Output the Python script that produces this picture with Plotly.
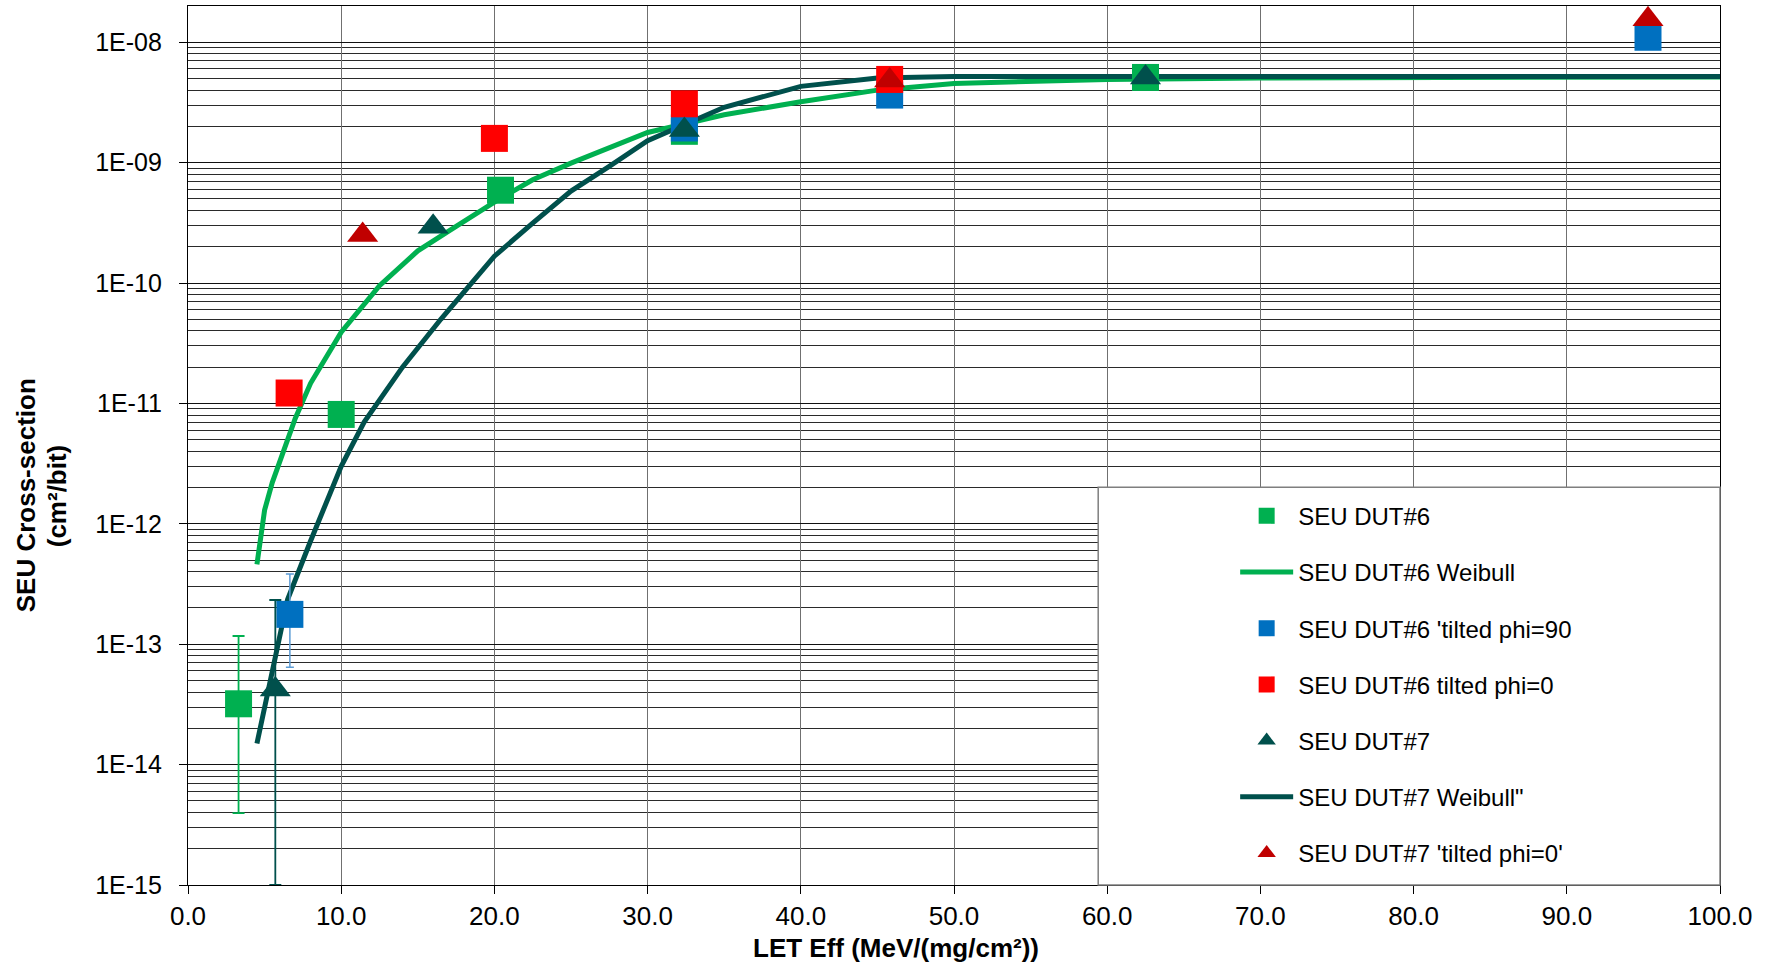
import plotly.graph_objects as go

# ---------------- data ----------------
# SEU DUT#6 (green squares)
dut6_x = [3.3, 10.0, 20.4, 32.4, 62.5]
dut6_y = [3.2e-14, 8.1e-12, 5.9e-10, 1.82e-9, 5.1e-9]
dut6_hi = [1.17e-13, None, None, None, None]
dut6_lo = [3.96e-15, None, None, None, None]

# SEU DUT#6 Weibull
w6_x = [4.5, 5.0, 5.5, 6.0, 7.0, 8.0, 10.0, 12.5, 15.0, 17.5, 20.0, 22.5, 25.0, 30.0,
        35.0, 40.0, 45.0, 50.0, 60.0, 70.0, 80.0, 90.0, 100.0]
w6_y = [4.6e-13, 1.3e-12, 2.2e-12, 3.3e-12, 7.5e-12, 1.47e-11, 3.9e-11, 9.5e-11, 1.85e-10,
        2.95e-10, 4.7e-10, 7.2e-10, 9.9e-10, 1.78e-9, 2.5e-9, 3.2e-9, 4.0e-9,
        4.55e-9, 4.9e-9, 5.05e-9, 5.1e-9, 5.15e-9, 5.15e-9]

# SEU DUT#6 'tilted phi=90 (blue squares)
p90_x = [6.65, 32.4, 45.8, 95.3]
p90_y = [1.77e-13, 1.94e-9, 3.64e-9, 1.1e-8]
p90_hi = [3.83e-13, None, None, None]
p90_lo = [6.45e-14, None, None, None]

# SEU DUT#6 tilted phi=0 (red squares)
p0_x = [6.6, 20.0, 32.4, 45.8]
p0_y = [1.22e-11, 1.59e-9, 3.08e-9, 4.91e-9]

# SEU DUT#7 (dark triangles)
dut7_x = [5.7, 16.0, 32.4, 62.5]
dut7_y = [4.2e-14, 2.94e-10, 1.87e-9, 5.1e-9]
dut7_hi = [2.33e-13, None, None, None]
dut7_lo = [1.0e-15, None, None, None]

# SEU DUT#7 Weibull
w7_x = [4.5, 5.0, 5.5, 6.5, 8.0, 9.0, 10.0, 11.5, 12.5, 14.0, 16.5, 20.0, 22.5, 25.0,
        27.5, 30.0, 35.0, 40.0, 45.0, 50.0, 60.0, 70.0, 80.0, 90.0, 100.0]
w7_y = [1.5e-14, 3.0e-14, 5.8e-14, 2.35e-13, 7.2e-13, 1.5e-12, 3.0e-12, 7.0e-12,
        1.07e-11, 2.0e-11, 5.0e-11, 1.67e-10, 3.15e-10, 5.8e-10, 9.3e-10, 1.52e-9,
        2.88e-9, 4.3e-9, 5.05e-9, 5.2e-9, 5.2e-9, 5.2e-9, 5.2e-9, 5.2e-9, 5.2e-9]

# SEU DUT#7 'tilted phi=0' (red triangles)
t7_x = [11.4, 45.8, 95.3]
t7_y = [2.5e-10, 4.8e-9, 1.55e-8]

x_ticks = [0, 10, 20, 30, 40, 50, 60, 70, 80, 90, 100]
y_tickvals = [1e-15, 1e-14, 1e-13, 1e-12, 1e-11, 1e-10, 1e-9, 1e-8]
y_ticktext = ["1E-15", "1E-14", "1E-13", "1E-12", "1E-11", "1E-10", "1E-09", "1E-08"]

names = ["SEU DUT#6", "SEU DUT#6 Weibull", "SEU DUT#6 'tilted phi=90",
         "SEU DUT#6 tilted phi=0", "SEU DUT#7", "SEU DUT#7 Weibull\"",
         "SEU DUT#7 'tilted phi=0'"]

GREEN = "#00B050"
DARK = "#00504C"
BLUE = "#0070C0"
RED = "#FF0000"
DRED = "#C00000"
FONT = "Liberation Sans, Arial, sans-serif"


def err_arrays(y, hi, lo):
    plus = [(h - v) if h is not None else 0 for v, h in zip(y, hi)]
    minus = [(v - l) if l is not None else 0 for v, l in zip(y, lo)]
    return plus, minus


fig = go.Figure()

# lines first (under markers)
fig.add_trace(go.Scatter(x=w6_x, y=w6_y, mode="lines", name=names[1],
                         line=dict(color=GREEN, width=5), legendgroup="g2", legendrank=2))
fig.add_trace(go.Scatter(x=w7_x, y=w7_y, mode="lines", name=names[5],
                         line=dict(color=DARK, width=5), legendgroup="g6", legendrank=6))

pl, mi = err_arrays(dut6_y, dut6_hi, dut6_lo)
fig.add_trace(go.Scatter(x=dut6_x, y=dut6_y, mode="markers", name=names[0],
                         marker=dict(symbol="square", size=27, color=GREEN),
                         error_y=dict(type="data", symmetric=False, array=pl, arrayminus=mi,
                                      color=GREEN, thickness=1.8, width=6),
                         legendgroup="g1", legendrank=1))

pl, mi = err_arrays(p90_y, p90_hi, p90_lo)
fig.add_trace(go.Scatter(x=p90_x, y=p90_y, mode="markers", name=names[2],
                         marker=dict(symbol="square", size=27, color=BLUE),
                         error_y=dict(type="data", symmetric=False, array=pl, arrayminus=mi,
                                      color="#5B9BD5", thickness=1.5, width=4),
                         legendgroup="g3", legendrank=3))

fig.add_trace(go.Scatter(x=p0_x, y=p0_y, mode="markers", name=names[3],
                         marker=dict(symbol="square", size=27, color=RED),
                         legendgroup="g4", legendrank=4))

pl, mi = err_arrays(dut7_y, dut7_hi, dut7_lo)
fig.add_trace(go.Scatter(x=dut7_x, y=dut7_y, mode="markers", name=names[4],
                         marker=dict(symbol="triangle-up", size=27, color=DARK),
                         error_y=dict(type="data", symmetric=False, array=pl, arrayminus=mi,
                                      color=DARK, thickness=1.8, width=6),
                         legendgroup="g5", legendrank=5))

fig.add_trace(go.Scatter(x=t7_x, y=t7_y, mode="markers", name=names[6],
                         marker=dict(symbol="triangle-up", size=27, color=DRED),
                         legendgroup="g7", legendrank=7))

# plot area in pixels: x 187.5..1720, y 6..885.5
L, R, T, B = 187.5, 1720.0, 6.0, 885.5
W, H = R - L, B - T


def px(xp):
    return (xp - L) / W


def py(yp):
    return (B - yp) / H


fig.update_layout(
    width=1771, height=963,
    margin=dict(l=L, r=1771 - R, t=T, b=963 - B, autoexpand=False),
    paper_bgcolor="white", plot_bgcolor="white",
    font=dict(family=FONT, color="black"),
    showlegend=True,
    legend=dict(x=px(1235), y=py(494), xanchor="left", yanchor="top",
                bgcolor="rgba(0,0,0,0)", borderwidth=0,
                font=dict(size=24, family=FONT, color="black"),
                itemwidth=53, traceorder="grouped", tracegroupgap=22),
    xaxis=dict(range=[0, 100], tickmode="array", tickvals=x_ticks,
               ticktext=[f"{v:.1f}" for v in x_ticks],
               showgrid=True, gridcolor="#707070", gridwidth=1,
               showline=True, linecolor="black", linewidth=1.2, mirror=True,
               ticks="outside", ticklen=8, tickcolor="black",
               tickfont=dict(size=26, family=FONT, color="black"),
               ticklabelstandoff=0, zeroline=False),
    yaxis=dict(type="log", range=[-15, -7.699], tickmode="array",
               tickvals=y_tickvals, ticktext=y_ticktext,
               showgrid=True, gridcolor="#111111", gridwidth=1.2,
               minor=dict(dtick="D1", showgrid=True, gridcolor="#2a2a2a", gridwidth=1,
                          ticks=""),
               showline=True, linecolor="black", linewidth=1.2, mirror=True,
               ticks="outside", ticklen=8, tickcolor="black",
               tickfont=dict(size=25, family=FONT, color="black"),
               ticklabelstandoff=12, zeroline=False),
    shapes=[dict(type="rect", xref="paper", yref="paper",
                 x0=px(1098), x1=1.0, y0=0.0, y1=py(487.5),
                 fillcolor="white", line=dict(color="#7f7f7f", width=1.5), layer="above")],
    annotations=[
        dict(text="<b>LET Eff (MeV/(mg/cm²))</b>", xref="paper", yref="paper",
             x=px(896), y=py(949), xanchor="center", yanchor="middle", showarrow=False,
             font=dict(size=26, family=FONT, color="black")),
        dict(text="<b>SEU Cross-section</b>", xref="paper", yref="paper",
             x=px(25), y=py(496), xanchor="center", yanchor="middle", showarrow=False,
             textangle=-90, font=dict(size=26, family=FONT, color="black")),
        dict(text="<b>(cm²/bit)</b>", xref="paper", yref="paper",
             x=px(56), y=py(496), xanchor="center", yanchor="middle", showarrow=False,
             textangle=-90, font=dict(size=26, family=FONT, color="black")),
    ],
)

fig.write_html("out.html")
